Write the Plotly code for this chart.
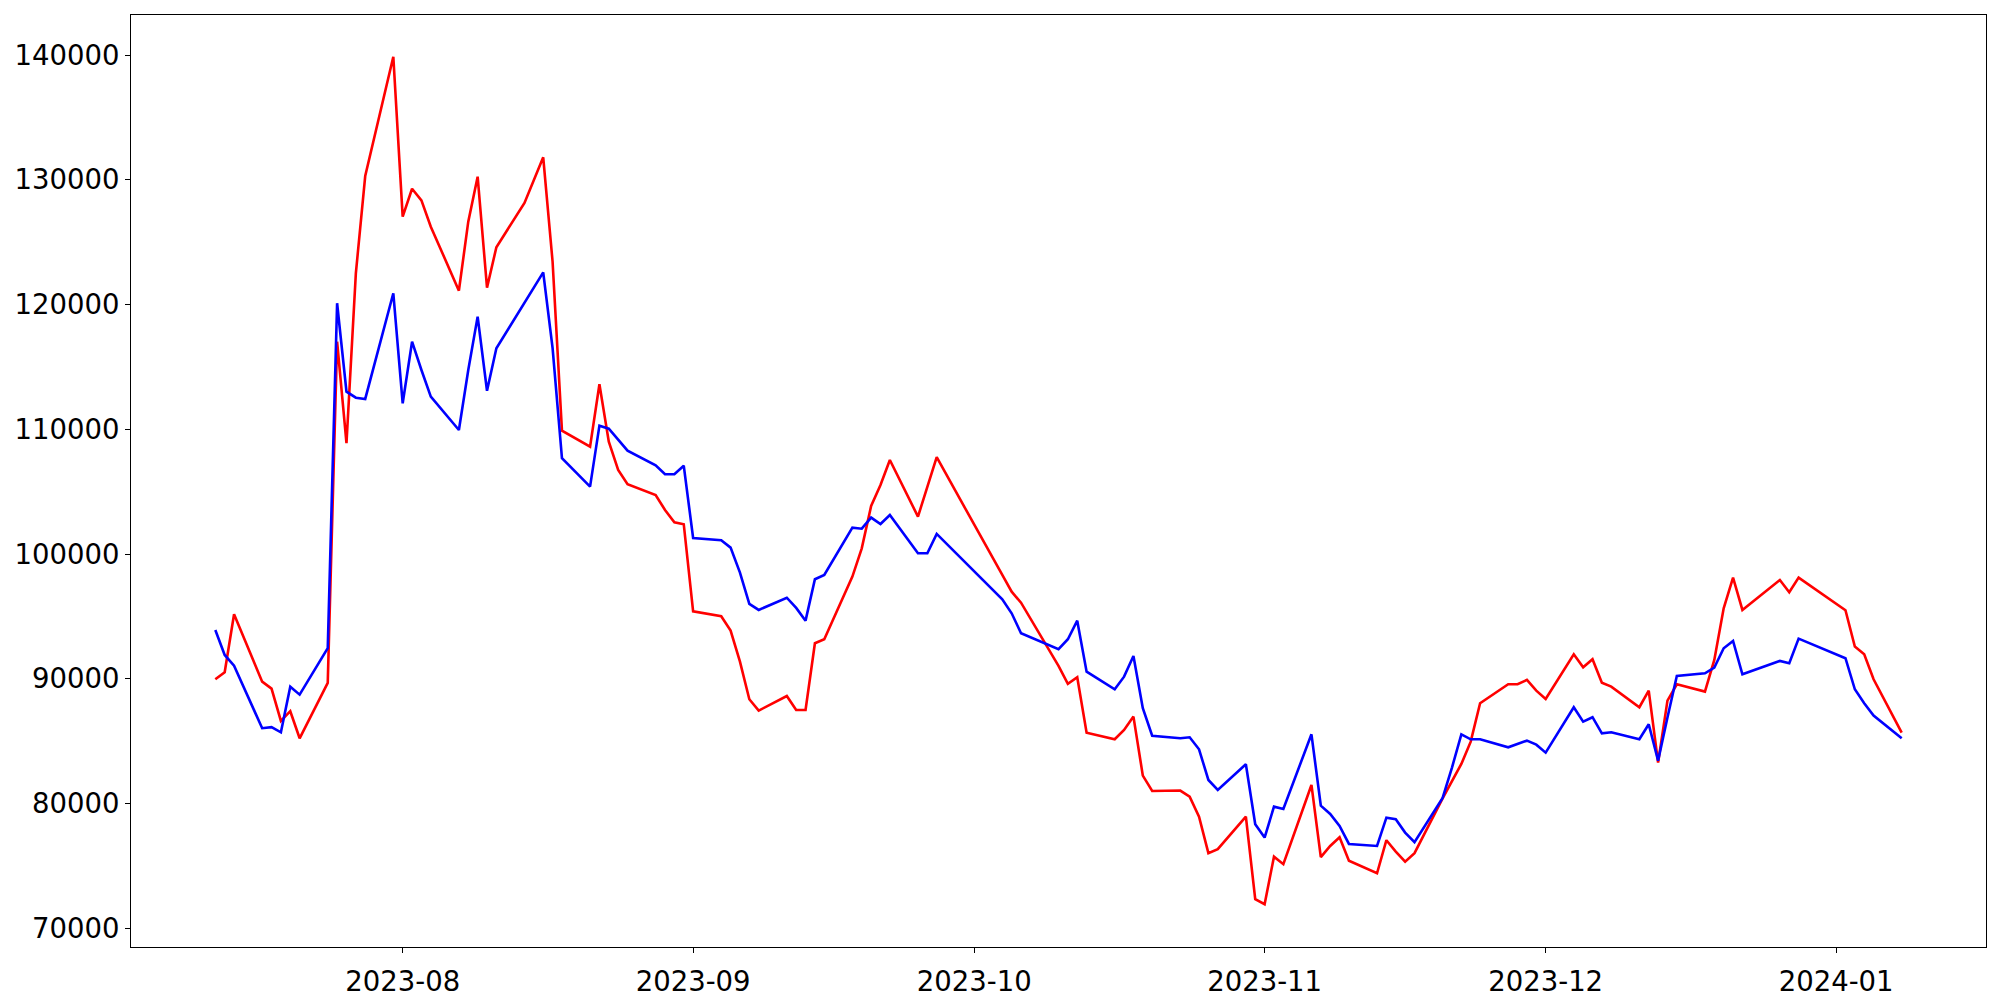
import pandas as pd
import plotly.graph_objects as go

# KRX trading days between 2023-07-12 and 2024-01-08 (market holidays removed)
holidays = [
    "2023-08-15", "2023-09-28", "2023-09-29", "2023-10-02", "2023-10-03",
    "2023-10-09", "2023-12-25", "2023-12-29", "2024-01-01",
]
dates = pd.bdate_range("2023-07-12", "2024-01-08")
dates = dates[~dates.isin(pd.to_datetime(holidays))]

red_values = [
    # Jul
    89960, 90520, 95170, 89770, 89210, 86620, 87400, 85230, 89670, 117020,
    108880, 122500, 130300, 139860,
    # Aug
    127040, 129280, 128350, 126240, 121110, 126640, 130250, 121350, 124590,
    128140, 131800, 123430, 109890, 108600, 113610, 109010, 106740, 105590,
    104730, 103530, 102550, 102390,
    # Sep
    95410, 95010, 93860, 91370, 88360, 87450, 88620, 87500, 87500, 92850,
    93170, 98190, 100460, 103850, 105540, 107540, 103000, 105380, 107760,
    # Oct
    98320, 96980, 96100, 91030, 89590, 90120, 85680, 85150, 85900, 86970,
    82240, 81010, 81040, 80550, 78950, 76020, 76340, 78950, 72330,
    # Nov
    71930, 75740, 75140, 81490, 75700, 76600, 77300, 75420, 74410, 77060,
    76150, 75340, 76020, 80420, 81840, 83170, 84960, 88040, 89560, 89560,
    89910, 89050,
    # Dec
    88380, 91970, 90920, 91570, 89690, 89370, 87720, 89050, 83280, 88250,
    89560, 88970, 91510, 95650, 98110, 95520, 97920, 96940, 98110,
    # Jan
    95490, 92580, 91970, 89960, 85680,
]

blue_values = [
    # Jul
    93910, 91910, 91050, 86040, 86120, 85710, 89370, 88730, 92450, 120100,
    113010, 112530, 112430, 120900,
    # Aug
    112080, 117020, 114750, 112610, 109940, 114750, 119030, 113090, 116490,
    120120, 122580, 116500, 107680, 105400, 110290, 110050, 109200, 108290,
    107110, 106390, 106390, 107080,
    # Sep
    101290, 101100, 100510, 98510, 96000, 95520, 96500, 95680, 94660, 97980,
    98320, 102110, 102030, 102920, 102410, 103130, 100060, 100060, 101610,
    # Oct
    96370, 95250, 93650, 92370, 93170, 94660, 90570, 89160, 90170, 91830,
    87640, 85440, 85230, 85310, 84350, 81890, 81090, 83150, 78340,
    # Nov
    77270, 79750, 79570, 85550, 79830, 79170, 78200, 76760, 76600, 78870,
    78740, 77670, 76900, 80450, 82880, 85550, 85150, 85150, 84510, 84750,
    85040, 84720,
    # Dec
    84080, 87720, 86560, 86920, 85630, 85710, 85150, 86360, 83440, 86900,
    90230, 90440, 90900, 92450, 93030, 90360, 91430, 91250, 93220,
    # Jan
    91650, 89160, 88040, 87050, 85230,
]

x_tickvals = ["2023-08-01", "2023-09-01", "2023-10-01", "2023-11-01", "2023-12-01", "2024-01-01"]
x_ticktext = ["2023-08", "2023-09", "2023-10", "2023-11", "2023-12", "2024-01"]
y_tickvals = [70000, 80000, 90000, 100000, 110000, 120000, 130000, 140000]

fig = go.Figure()
fig.add_trace(
    go.Scatter(x=dates, y=red_values, mode="lines", line=dict(color="#ff0000", width=2.6))
)
fig.add_trace(
    go.Scatter(x=dates, y=blue_values, mode="lines", line=dict(color="#0000ff", width=2.6))
)

axis_style = dict(
    automargin=False,
    showline=True,
    linecolor="black",
    linewidth=1.2,
    mirror=True,
    showgrid=False,
    zeroline=False,
    ticks="outside",
    ticklen=5,
    tickwidth=1.2,
    tickcolor="black",
    tickfont=dict(family="DejaVu Sans", size=27.5, color="black"),
)

# the page body adds an 8px offset, so margins are shifted to compensate
fig.update_layout(
    width=2000,
    height=1000,
    showlegend=False,
    paper_bgcolor="white",
    plot_bgcolor="white",
    margin=dict(l=123, r=22, t=7, b=61),
    xaxis=dict(
        type="date",
        range=["2023-07-03", "2024-01-17"],
        tickvals=x_tickvals,
        ticktext=x_ticktext,
        ticklabelstandoff=5,
        **axis_style,
    ),
    yaxis=dict(
        range=[68501, 143206],
        tickvals=y_tickvals,
        ticktext=[str(v) for v in y_tickvals],
        **axis_style,
    ),
)

fig.write_html("out.html")
